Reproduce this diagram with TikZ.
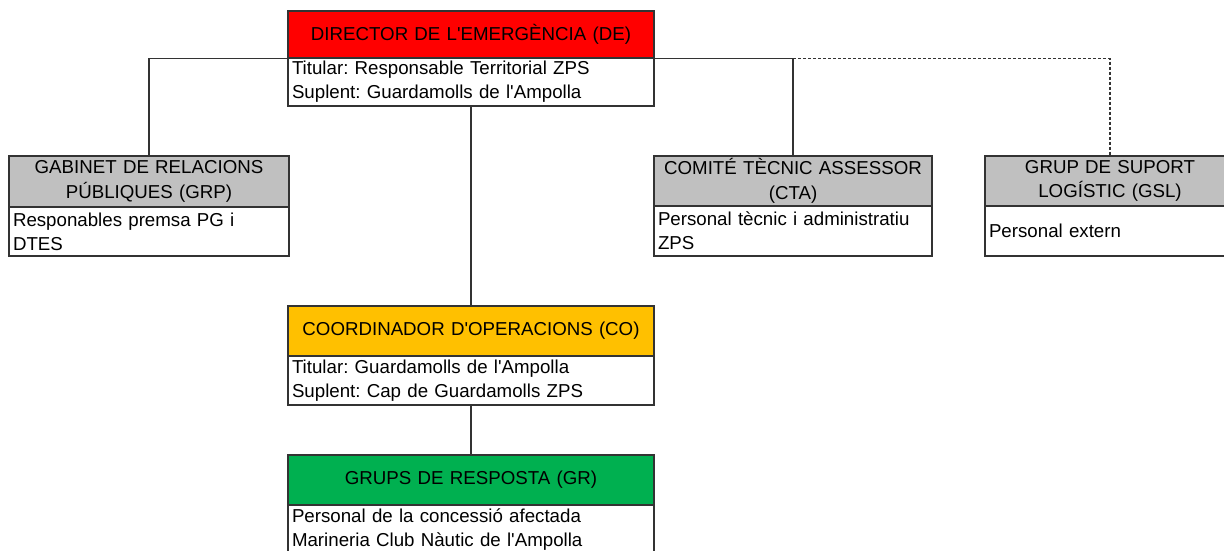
\documentclass[tikz,border=0pt]{standalone}
\usepackage{fontspec}
\setmainfont{Liberation Sans}
\newfontfamily\orgfont{Liberation Sans}
\definecolor{derred}{HTML}{FF0000}
\definecolor{orggray}{HTML}{C0C0C0}
\definecolor{coorange}{HTML}{FFC000}
\definecolor{grgreen}{HTML}{00B050}
\frenchspacing
\begin{document}
\begin{tikzpicture}[x=1pt, y=-1pt,
    headbox/.style ={draw=black!80, line width=1.1pt, inner sep=0pt, align=center,
      font=\orgfont\fontsize{18.7}{24.5}\selectfont},
    bodybox/.style ={draw=black!80, line width=1.1pt, fill=white, inner xsep=4pt, inner ysep=0pt,
      align=left, font=\orgfont\fontsize{18.7}{24}\selectfont},
    link/.style ={draw=black!80, line width=1.1pt}]
   \useasboundingbox (0,0) rectangle (1224,550);
   \clip (0,0) rectangle (1224,550);
   % direccio
   \node[headbox, fill=derred, text width=366pt, minimum height=47pt] (DEh) at (471,34.5) {DIRECTOR DE L'EMERGÈNCIA (DE)};
   \node[bodybox, text width=358pt, minimum height=48pt] (DEb) at (471,82) {Titular: Responsable Territorial ZPS\\Suplent: Guardamolls de l'Ampolla};
   % gabinet, comite, suport
   \node[headbox, fill=orggray, text width=280pt, minimum height=51pt] (GRPh) at (149,181.5) {GABINET DE RELACIONS\\PÚBLIQUES (GRP)};
   \node[bodybox, text width=272pt, minimum height=49pt] (GRPb) at (149,231.5) {Responables premsa PG i\\DTES};
   \node[headbox, fill=orggray, text width=278pt, minimum height=50pt] (CTAh) at (793,181) {COMITÉ TÈCNIC ASSESSOR\\(CTA)};
   \node[bodybox, text width=270pt, minimum height=50pt] (CTAb) at (793,231) {Personal tècnic i administratiu\\ZPS};
   \node[headbox, fill=orggray, text width=250pt, minimum height=50pt] (GSLh) at (1110,181) {GRUP DE SUPORT\\LOGÍSTIC (GSL)};
   \node[bodybox, text width=242pt, minimum height=50pt] (GSLb) at (1110,231) {Personal extern};
   % operacions
   \node[headbox, fill=coorange, text width=366pt, minimum height=50pt] (COh) at (471,331) {COORDINADOR D'OPERACIONS (CO)};
   \node[bodybox, text width=358pt, minimum height=49pt] (COb) at (471,380.5) {Titular: Guardamolls de l'Ampolla\\Suplent: Cap de Guardamolls ZPS};
   \node[headbox, fill=grgreen, text width=366pt, minimum height=50pt] (GRh) at (471,480) {GRUPS DE RESPOSTA (GR)};
   \node[bodybox, text width=358pt, minimum height=50pt] (GRb) at (471,530) {Personal de la concessió afectada\\Marineria Club Nàutic de l'Ampolla};
   % connectors
   \draw[link] (DEh.south west) -| (GRPh.north);
   \draw[link] (DEh.south east) -| (CTAh.north);
   \draw[link, dash pattern=on 3pt off 2pt] (CTAh.north |- DEh.south) -| (GSLh.north);
   \draw[link] (DEb.south) to (COh.north);
   \draw[link] (COb.south) to (GRh.north);
 \end{tikzpicture}
\end{document}
